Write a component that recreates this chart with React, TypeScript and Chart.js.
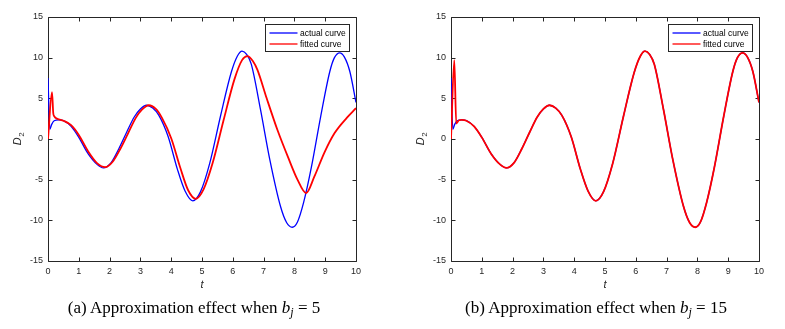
import React, { useEffect, useRef } from "react";
import { Chart, registerables } from "chart.js";

Chart.register(...registerables);

// ---- data ----
const actualT = [0, 0.06, 0.12, 0.2, 0.35, 0.5, 0.75, 1.0, 1.3, 1.6, 1.8, 2.05, 2.3, 2.55, 2.8, 3.0, 3.2, 3.4, 3.6, 3.9, 4.2, 4.45, 4.7, 4.95, 5.25, 5.6, 5.95, 6.15, 6.3, 6.45, 6.6, 6.9, 7.2, 7.55, 7.75, 7.93, 8.1, 8.3, 8.55, 8.85, 9.15, 9.3, 9.47, 9.62, 9.8, 10];
const actualD = [7.5, 1.2, 1.8, 2.25, 2.35, 2.25, 1.55, 0.2, -1.8, -3.15, -3.55, -2.9, -1.2, 0.8, 2.7, 3.7, 4.15, 3.8, 2.9, 0.3, -3.7, -6.4, -7.6, -6.5, -3.0, 2.8, 8.2, 10.2, 10.8, 10.4, 9.2, 3.6, -2.5, -8.3, -10.3, -10.85, -10.2, -7.8, -3.5, 2.7, 8.3, 10.0, 10.6, 10.1, 8.3, 4.5];

const fitAT = [0, 0.13, 0.17, 0.2, 0.3, 0.5, 0.75, 1.0, 1.3, 1.6, 1.86, 2.1, 2.35, 2.6, 2.85, 3.05, 3.27, 3.5, 3.7, 4.0, 4.3, 4.55, 4.8, 5.05, 5.35, 5.7, 6.05, 6.3, 6.47, 6.65, 6.8, 7.1, 7.45, 7.8, 8.1, 8.38, 8.65, 8.97, 9.3, 9.7, 10];
const fitAD = [0, 5.75, 3.2, 2.8, 2.5, 2.25, 1.7, 0.5, -1.5, -3.0, -3.47, -2.8, -1.2, 0.7, 2.6, 3.6, 4.15, 3.7, 2.6, 0.1, -3.6, -6.3, -7.35, -6.2, -2.9, 2.3, 7.3, 9.7, 10.2, 9.6, 8.5, 5.0, 1.1, -2.3, -5.0, -6.65, -4.6, -1.7, 0.7, 2.6, 3.8];

// fitted curve for b_j = 15: initial spike, then it lies on the actual curve
const fitBHeadT = [0, 0.107, 0.17, 0.26];
const fitBHeadD = [0, 9.7, 1.9, 2.3];
const tailStart = actualT.findIndex((t) => t >= 0.35);
const fitBT = [...fitBHeadT, ...actualT.slice(tailStart)];
const fitBD = [...fitBHeadD, ...actualD.slice(tailStart)];

const seriesLabels = ["actual curve", "fitted curve"];
const seriesColors = ["#0000ff", "#ff0000"];
const xMin = 0, xMax = 10, xStep = 1;
const yMin = -15, yMax = 15, yStep = 5;
const xTitle = "t";
const yTitleMain = "D";
const yTitleSub = "2";

const toPoints = (xs: number[], ys: number[]) => xs.map((x, i) => ({ x, y: ys[i] }));

type PanelProps = {
  fitT: number[];
  fitD: number[];
  left: number;
  width: number;
  yAxisWidth: number;
  padRight: number;
};

const AXIS_COLOR = "#262626";
const SANS = "'Liberation Sans', Arial, sans-serif";

function Panel({ fitT, fitD, left, width, yAxisWidth, padRight }: PanelProps) {
  const ref = useRef<HTMLCanvasElement | null>(null);
  useEffect(() => {
    if (!ref.current) return;
    const framePlugin = {
      id: "frame",
      beforeDatasetsDraw(chart: any) {
        const { ctx, chartArea: a, scales } = chart;
        ctx.save();
        ctx.strokeStyle = AXIS_COLOR;
        ctx.lineWidth = 1;
        const L = Math.round(a.left) + 0.5, R = Math.round(a.right) + 0.5;
        const T = Math.round(a.top) + 0.5, B = Math.round(a.bottom) + 0.5;
        ctx.beginPath();
        ctx.rect(L, T, R - L, B - T);
        ctx.stroke();
        const tl = 4;
        ctx.beginPath();
        scales.x.ticks.forEach((tk: any) => {
          const px = Math.round(scales.x.getPixelForValue(tk.value)) + 0.5;
          ctx.moveTo(px, B); ctx.lineTo(px, B - tl);
          ctx.moveTo(px, T); ctx.lineTo(px, T + tl);
        });
        scales.y.ticks.forEach((tk: any) => {
          const py = Math.round(scales.y.getPixelForValue(tk.value)) + 0.5;
          ctx.moveTo(L, py); ctx.lineTo(L + tl, py);
          ctx.moveTo(R, py); ctx.lineTo(R - tl, py);
        });
        ctx.stroke();

        // y title D_2
        ctx.translate(a.left - 31, (a.top + a.bottom) / 2);
        ctx.rotate(-Math.PI / 2);
        ctx.fillStyle = AXIS_COLOR;
        ctx.textBaseline = "alphabetic";
        ctx.textAlign = "left";
        ctx.font = `italic 11px ${SANS}`;
        const wMain = ctx.measureText(yTitleMain).width;
        ctx.font = `8px ${SANS}`;
        const wSub = ctx.measureText(yTitleSub).width;
        const start = -(wMain + wSub) / 2;
        ctx.font = `italic 11px ${SANS}`;
        ctx.fillText(yTitleMain, start, 4);
        ctx.font = `8px ${SANS}`;
        ctx.fillText(yTitleSub, start + wMain + 0.5, 7);
        ctx.restore();
      },
      afterDatasetsDraw(chart: any) {
        const { ctx, chartArea: a } = chart;
        ctx.save();
        const bw = 84, bh = 27;
        const bx = Math.round(a.right - 7 - bw) + 0.5;
        const by = Math.round(a.top + 7) + 0.5;
        ctx.fillStyle = "#ffffff";
        ctx.fillRect(bx, by, bw, bh);
        ctx.strokeStyle = AXIS_COLOR;
        ctx.lineWidth = 1;
        ctx.strokeRect(bx, by, bw, bh);
        ctx.font = `8.5px ${SANS}`;
        ctx.textBaseline = "middle";
        ctx.textAlign = "left";
        chart.data.datasets.forEach((ds: any, i: number) => {
          const ry = by + 8.5 + i * 11;
          ctx.strokeStyle = ds.borderColor;
          ctx.lineWidth = 1.3;
          ctx.beginPath();
          ctx.moveTo(bx + 4, ry);
          ctx.lineTo(bx + 32, ry);
          ctx.stroke();
          ctx.fillStyle = "#000000";
          ctx.fillText(ds.label, bx + 34.5, ry + 0.5);
        });
        ctx.restore();
      },
    };

    const chart = new Chart(ref.current, {
      type: "line",
      data: {
        datasets: [
          {
            label: seriesLabels[0],
            data: toPoints(actualT, actualD),
            borderColor: seriesColors[0],
            borderWidth: 1.3,
            pointRadius: 0,
            cubicInterpolationMode: "monotone",
            order: 2,
          },
          {
            label: seriesLabels[1],
            data: toPoints(fitT, fitD),
            borderColor: seriesColors[1],
            borderWidth: 1.8,
            pointRadius: 0,
            cubicInterpolationMode: "monotone",
            order: 1,
          },
        ],
      },
      options: {
        animation: false,
        responsive: false,
        maintainAspectRatio: false,
        events: [],
        layout: { padding: { left: 0, right: padRight, top: 17, bottom: 8 } },
        plugins: { legend: { display: false }, tooltip: { enabled: false } },
        scales: {
          x: {
            type: "linear",
            min: xMin,
            max: xMax,
            grid: { display: false, drawTicks: false },
            border: { display: false },
            ticks: {
              stepSize: xStep,
              padding: 5,
              maxRotation: 0,
              color: AXIS_COLOR,
              font: { family: SANS, size: 9 },
            },
            title: {
              display: true,
              text: xTitle,
              color: AXIS_COLOR,
              padding: { top: 0, bottom: 0 },
              font: { family: SANS, size: 11, style: "italic" },
            },
            afterFit: (s: any) => {
              s.height = 31;
            },
          },
          y: {
            type: "linear",
            min: yMin,
            max: yMax,
            grid: { display: false, drawTicks: false },
            border: { display: false },
            ticks: {
              stepSize: yStep,
              padding: 5,
              color: AXIS_COLOR,
              font: { family: SANS, size: 9 },
            },
            afterFit: (s: any) => {
              s.width = yAxisWidth;
            },
          },
        },
      },
      plugins: [framePlugin],
    } as any);
    return () => chart.destroy();
  }, []);
  return (
    <canvas
      ref={ref}
      width={width}
      height={300}
      style={{ position: "absolute", left, top: 0, width, height: 300 }}
    />
  );
}

const captionStyle: React.CSSProperties = {
  position: "absolute",
  top: 297,
  width: 320,
  textAlign: "center",
  fontFamily: "'Liberation Serif', 'Times New Roman', serif",
  fontSize: 17,
  lineHeight: "22px",
  color: "#000",
  whiteSpace: "nowrap",
};

const subStyle: React.CSSProperties = { fontSize: 12, fontStyle: "italic", verticalAlign: "-3px" };

export default function App() {
  return (
    <div style={{ position: "absolute", left: 0, top: 0, width: 785, height: 329, background: "#fff", overflow: "hidden" }}>
      <Panel fitT={fitAT} fitD={fitAD} left={0} width={392} yAxisWidth={48} padRight={36} />
      <Panel fitT={fitBT} fitD={fitBD} left={400} width={385} yAxisWidth={51} padRight={26} />
      <div style={{ ...captionStyle, left: 194 - 160 }}>
        (a) Approximation effect when <i>b</i><sub style={subStyle}>j</sub> = 5
      </div>
      <div style={{ ...captionStyle, left: 596 - 160 }}>
        (b) Approximation effect when <i>b</i><sub style={subStyle}>j</sub> = 15
      </div>
    </div>
  );
}
